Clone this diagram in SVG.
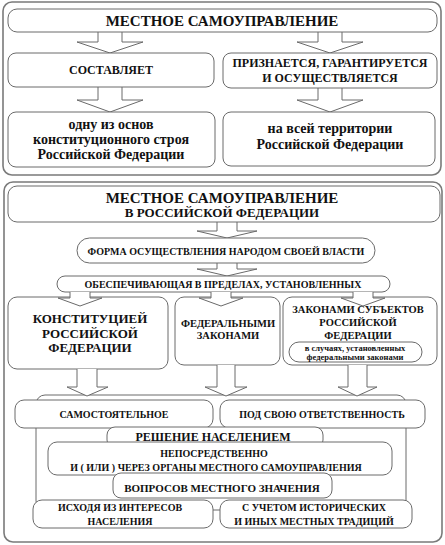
<svg xmlns="http://www.w3.org/2000/svg" width="445" height="545" viewBox="0 0 445 545">
<style>
.panel{fill:#fff;stroke:#7a7a7a;stroke-width:1.6}
.box{fill:#fff;stroke:#6a6a6a;stroke-width:1}
.arr{fill:#fff;stroke:#6a6a6a;stroke-width:1}
text{font-family:"Times New Roman",Tinos,"Liberation Serif","Nimbus Roman","DejaVu Serif",serif;font-weight:700;fill:#111;text-anchor:middle}
.t15{font-size:15px}
.t13{font-size:13px}
.t12{font-size:12px}
.t14{font-size:14px}
.t11{font-size:11px}
.t105{font-size:10.5px}
.t10{font-size:10px}
.t8{font-size:8.5px}
</style>
<rect width="445" height="545" fill="#fff"/>
<rect class="panel" x="3" y="2" width="438" height="173" rx="9"/>
<rect class="panel" x="4" y="182" width="438" height="360" rx="9"/>

<g id="connectors">
<path class="arr" d="M98,32 V42 H77 L110,53 L143,42 H122 V32"/>
<path class="arr" d="M318,32 V42 H297 L330,53 L363,42 H342 V32"/>
<path class="arr" d="M98,87 V100 H77 L110,112 L143,100 H122 V87"/>
<path class="arr" d="M318,88 V100 H297 L330,112 L363,100 H342 V88"/>
<path class="arr" d="M217,222 V231 H197 L227,238 L257,231 H237 V222"/>
<path class="arr" d="M217,263 V269 H197 L227,276 L257,269 H237 V263"/>
</g>

<g id="n-top-title"><rect class="box" x="8" y="9" width="429" height="23" rx="9"/><text class="t15" x="222" y="26">МЕСТНОЕ САМОУПРАВЛЕНИЕ</text></g>
<g id="n-sostavlyaet"><rect class="box" x="8" y="53" width="206" height="34" rx="8"/><text class="t12" x="111" y="74">СОСТАВЛЯЕТ</text></g>
<g id="n-priznaetsya"><rect class="box" x="223" y="53" width="214" height="35" rx="8"/><text class="t12" x="330" y="67">ПРИЗНАЕТСЯ, ГАРАНТИРУЕТСЯ</text><text class="t12" x="330" y="82">И ОСУЩЕСТВЛЯЕТСЯ</text></g>
<g id="n-odnu"><rect class="box" x="8" y="112" width="207" height="55" rx="8"/><text class="t14" x="111" y="129">одну из основ</text><text class="t14" x="111" y="144">конституционного строя</text><text class="t14" x="111" y="159">Российской Федерации</text></g>
<g id="n-vsei"><rect class="box" x="223" y="112" width="212" height="54" rx="8"/><text class="t14" x="330" y="133">на всей территории</text><text class="t14" x="330" y="149">Российской Федерации</text></g>

<g id="n-bottom-title"><rect class="box" x="8" y="186" width="432" height="36" rx="9"/><text class="t15" x="222" y="203">МЕСТНОЕ САМОУПРАВЛЕНИЕ</text><text class="t13" x="222" y="217">В РОССИЙСКОЙ ФЕДЕРАЦИИ</text></g>
<g id="n-forma"><rect class="box" x="77" y="238" width="298" height="25" rx="12.5"/><text class="t10" x="226" y="255">ФОРМА ОСУЩЕСТВЛЕНИЯ НАРОДОМ СВОЕЙ ВЛАСТИ</text></g>
<g id="n-obespech"><rect class="box" x="57" y="276" width="333" height="16" rx="8"/><text class="t10" x="223" y="288">ОБЕСПЕЧИВАЮЩАЯ В ПРЕДЕЛАХ, УСТАНОВЛЕННЫХ</text></g>

<g id="n-konst"><rect class="box" x="8" y="297" width="160" height="72" rx="9"/><text class="t13" x="90" y="323">КОНСТИТУЦИЕЙ</text><text class="t13" x="90" y="338">РОССИЙСКОЙ</text><text class="t13" x="90" y="352">ФЕДЕРАЦИИ</text></g>
<g id="n-fed"><rect class="box" x="175" y="297" width="105" height="68" rx="9"/><text class="t105" x="228" y="327">ФЕДЕРАЛЬНЫМИ</text><text class="t105" x="228" y="339">ЗАКОНАМИ</text></g>
<g id="n-subj"><rect class="box" x="283" y="297" width="154" height="68" rx="9"/><text class="t105" x="358" y="313">ЗАКОНАМИ СУБЪЕКТОВ</text><text class="t105" x="358" y="326">РОССИЙСКОЙ</text><text class="t105" x="358" y="339">ФЕДЕРАЦИИ</text>
<rect class="box" x="289" y="342" width="133" height="20" rx="10"/><text class="t8" x="355" y="351">в случаях, установленных</text><text class="t8" x="355" y="360">федеральными законами</text></g>

<g id="connectors2">
<path class="arr" d="M70,292 V298 H58 L80,306 L102,298 H90 V292"/>
<path class="arr" d="M211,292 V298 H199 L221,306 L243,298 H231 V292"/>
<path class="arr" d="M353,292 V298 H341 L363,306 L385,298 H373 V292"/>
</g>

<g id="n-big"><rect class="box" x="36" y="395" width="370" height="115" rx="9"/></g>
<g id="connectors3">
<path class="arr" d="M77,369 V387 H67 L87,396 L108,387 H97 V369"/>
<path class="arr" d="M217,365 V387 H205 L226,396 L247,387 H235 V365"/>
<path class="arr" d="M348,365 V387 H338 L357,396 L377,387 H367 V365"/>
</g>

<g id="n-samost"><rect class="box" x="15" y="400" width="198" height="28" rx="9"/><text class="t10" x="114" y="418">САМОСТОЯТЕЛЬНОЕ</text></g>
<g id="n-pod"><rect class="box" x="220" y="400" width="205" height="28" rx="9"/><text class="t10" x="322" y="418">ПОД СВОЮ  ОТВЕТСТВЕННОСТЬ</text></g>
<g id="n-reshenie"><rect class="box" x="107" y="427" width="216" height="21" rx="8"/><text class="t12" x="213" y="441">РЕШЕНИЕ НАСЕЛЕНИЕМ</text></g>
<g id="n-neposr"><rect class="box" x="48" y="442" width="344" height="33" rx="9"/><text class="t10" x="214" y="457">НЕПОСРЕДСТВЕННО</text><text class="t10" x="216" y="471">И ( ИЛИ ) ЧЕРЕЗ ОРГАНЫ  МЕСТНОГО САМОУПРАВЛЕНИЯ</text></g>
<g id="n-voprosov"><rect class="box" x="113" y="473" width="219" height="25" rx="8"/><text class="t11" x="222" y="492">ВОПРОСОВ МЕСТНОГО  ЗНАЧЕНИЯ</text></g>
<g id="n-ishodya"><rect class="box" x="33" y="500" width="180" height="28" rx="9"/><text class="t10" x="120" y="511">ИСХОДЯ ИЗ ИНТЕРЕСОВ</text><text class="t10" x="120" y="525">НАСЕЛЕНИЯ</text></g>
<g id="n-uchetom"><rect class="box" x="220" y="500" width="192" height="28" rx="9"/><text class="t10" x="314" y="511">С УЧЕТОМ  ИСТОРИЧЕСКИХ</text><text class="t10" x="314" y="525">И ИНЫХ МЕСТНЫХ ТРАДИЦИЙ</text></g>
</svg>
